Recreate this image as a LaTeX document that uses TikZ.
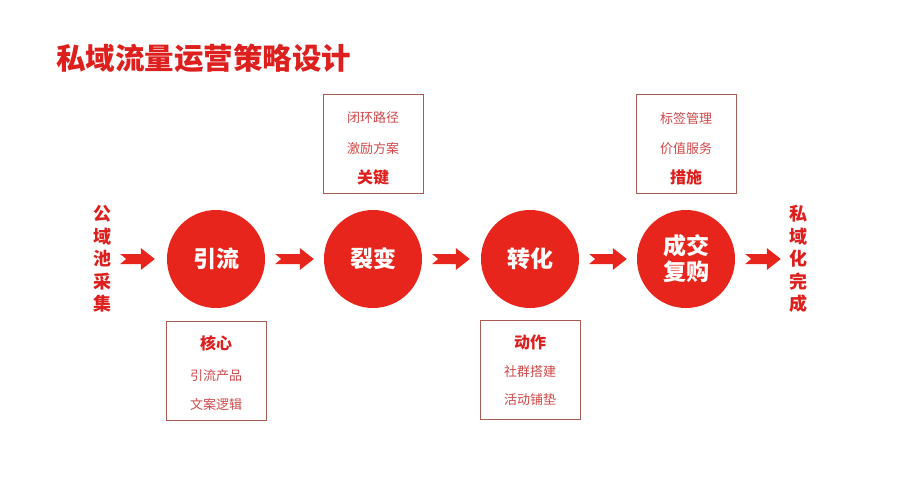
\documentclass[tikz,border=0pt]{standalone}
\usepackage{fontspec}
\setmainfont{Noto Sans CJK SC}
\usetikzlibrary{calc}
\definecolor{mainred}{HTML}{E8251C}
\definecolor{titlered}{HTML}{DD1F1E}
\definecolor{boxedge}{HTML}{A85A55}
\definecolor{smallred}{HTML}{D04848}
\tikzset{
  stage/.style={circle, fill=mainred, minimum size=98pt, inner sep=0pt, text=white,
    font=\fontsize{23}{26}\selectfont\bfseries, align=center},
  infobox/.style={draw=boxedge, line width=0.9pt, minimum width=100pt, minimum height=99pt, inner sep=0pt},
  small/.style={text=smallred, font=\fontsize{13}{13}\selectfont},
  label/.style={text=titlered, font=\fontsize{16}{16}\selectfont\bfseries},
  vtext/.style={text=titlered, font=\fontsize{18}{22.5}\selectfont\bfseries, align=center, inner sep=0pt},
  blockarrow/.style={fill=mainred, draw=none,
    to path={let \p1=(\tikztostart), \p2=(\tikztotarget) in
      (\x1,\y1+5pt) -- (\x2-14pt,\y1+5pt) -- (\x2-14pt,\y1+11pt) -- (\x2,\y1)
      -- (\x2-14pt,\y1-11pt) -- (\x2-14pt,\y1-5pt) -- (\x1,\y1-5pt) -- (\x1+6pt,\y1) -- cycle}}
}
\begin{document}
\begin{tikzpicture}[x=1pt,y=-1pt]
\useasboundingbox[fill=white] (0,0) rectangle (900,500);
\node[anchor=west, text=titlered, font=\fontsize{29.5}{30}\selectfont\bfseries, inner sep=0pt] (title) at (56,58) {私域流量运营策略设计};

\node[vtext] (src) at (102,259) {公\\域\\池\\采\\集};
\node[vtext] (dst) at (798,259) {私\\域\\化\\完\\成};

\node[stage] (c1) at (216,259) {引流};
\node[stage] (c2) at (373,259) {裂变};
\node[stage] (c3) at (530,259) {转化};
\node[stage] (c4) at (686,259) {成交\\复购};

\path[blockarrow] ([xshift=9pt]src.east) to ([xshift=-12pt]c1.west);
\path[blockarrow] ([xshift=10pt]c1.east) to ([xshift=-10pt]c2.west);
\path[blockarrow] ([xshift=10pt]c2.east) to ([xshift=-11pt]c3.west);
\path[blockarrow] ([xshift=10pt]c3.east) to ([xshift=-10pt]c4.west);
\path[blockarrow] ([xshift=10pt]c4.east) to ([xshift=-8pt]dst.west);

% boxes
\node[infobox] (b1) at (216,371) {};
\node[label] (b1t) at (216,343) {核心};
\node[small] (b1a) at (216,376) {引流产品};
\node[small] (b1b) at (216,405) {文案逻辑};

\node[infobox] (b2) at (373,144) {};
\node[small] (b2a) at (373,118) {闭环路径};
\node[small] (b2b) at (373,149) {激励方案};
\node[label] (b2t) at (373,177) {关键};

\node[infobox] (b3) at (530,370) {};
\node[label] (b3t) at (530,342) {动作};
\node[small] (b3a) at (530,372) {社群搭建};
\node[small] (b3b) at (530,400) {活动铺垫};

\node[infobox] (b4) at (686,144) {};
\node[small] (b4a) at (686,119) {标签管理};
\node[small] (b4b) at (686,149) {价值服务};
\node[label] (b4t) at (686,177) {措施};
\end{tikzpicture}
\end{document}
